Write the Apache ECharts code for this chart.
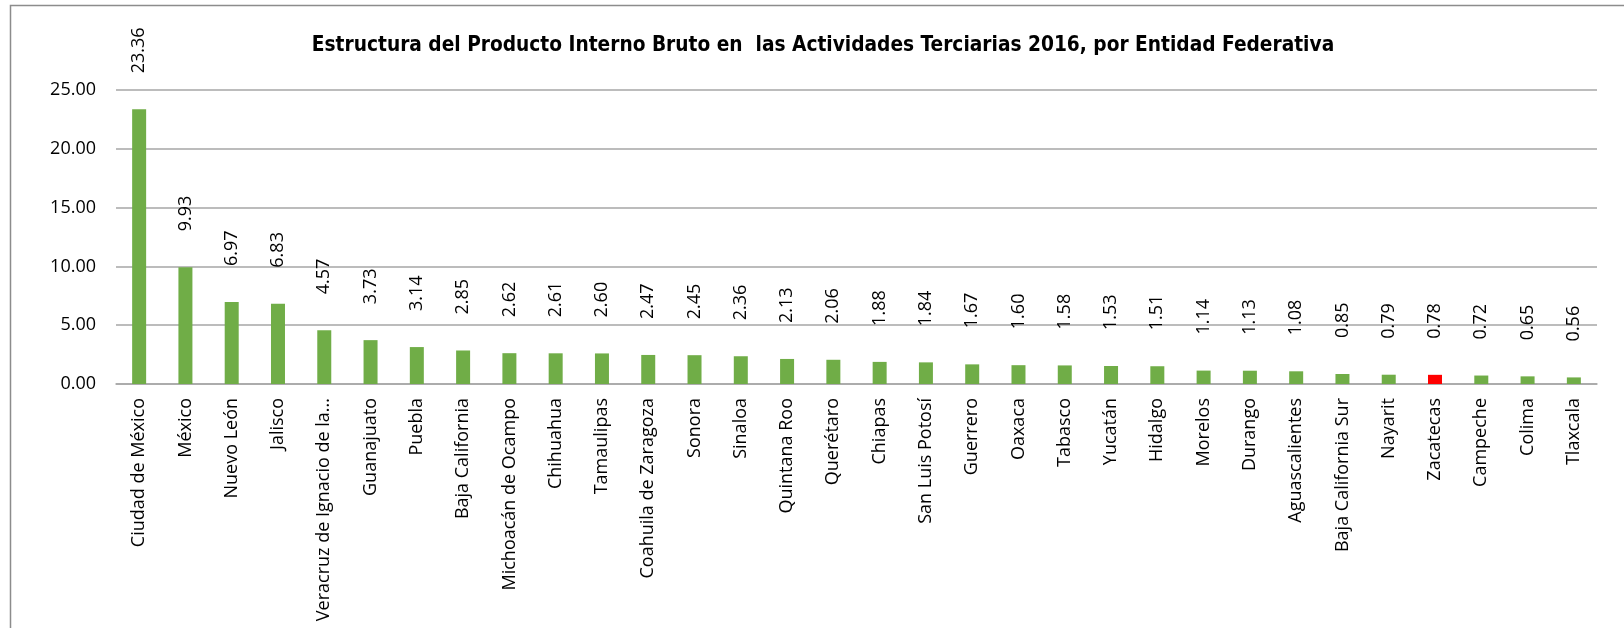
<!DOCTYPE html>
<html>
  <head>
    <meta charset="utf-8">
    <title>PIB Actividades Terciarias 2016</title>
    <script src="https://cdn.jsdelivr.net/npm/echarts@6/dist/echarts.min.js"></script>
    <style>
      html, body { margin: 0; padding: 0; background: #fff; }
      #chart1 { width: 1624px; height: 628px; }
    </style>
  </head>
  <body>
    <div id="chart1"></div>
  </body>
  <script>
    // entidades federativas
    var estados = ['Ciudad de México', 'México', 'Nuevo León', 'Jalisco', 'Veracruz de Ignacio de la Llave',
      'Guanajuato', 'Puebla', 'Baja California', 'Michoacán de Ocampo', 'Chihuahua', 'Tamaulipas',
      'Coahuila de Zaragoza', 'Sonora', 'Sinaloa', 'Quintana Roo', 'Querétaro', 'Chiapas',
      'San Luis Potosí', 'Guerrero', 'Oaxaca', 'Tabasco', 'Yucatán', 'Hidalgo', 'Morelos',
      'Durango', 'Aguascalientes', 'Baja California Sur', 'Nayarit', 'Zacatecas', 'Campeche',
      'Colima', 'Tlaxcala'];
    // participación (%)
    var valores = [23.36, 9.93, 6.97, 6.83, 4.57, 3.73, 3.14, 2.85, 2.62, 2.61, 2.60,
      2.47, 2.45, 2.36, 2.13, 2.06, 1.88, 1.84, 1.67, 1.60, 1.58, 1.53, 1.51, 1.14,
      1.13, 1.08, 0.85, 0.79, 0.78, 0.72, 0.65, 0.56];
    var destacado = 'Zacatecas';
    var yTicks = [0, 5, 10, 15, 20, 25];

    var verde = '#70ad47', rojo = '#ff0000';
    var fuente = '"Open Sans", "DejaVu Sans", sans-serif';

    var myChart = echarts.init(document.getElementById('chart1'));
    var option = {
      animation: false,
      title: {
        text: 'Estructura del Producto Interno Bruto en  las Actividades Terciarias 2016, por Entidad Federativa',
        left: 818,
        top: 30,
        textAlign: 'center',
        textStyle: {
          fontFamily: '"Liberation Sans Narrow", "DejaVu Sans Condensed", sans-serif',
          fontWeight: 'bold',
          fontSize: 20.7,
          color: '#000'
        }
      },
      graphic: [{
        type: 'rect',
        shape: { x: 10.5, y: 5.5, width: 1700, height: 700 },
        style: { fill: 'none', stroke: '#8c8c8c', lineWidth: 1.5 },
        silent: true
      }],
      grid: { left: 116, right: 27, top: 90, bottom: 244 },
      xAxis: {
        type: 'category',
        data: estados,
        axisTick: { show: false },
        axisLine: { lineStyle: { color: '#a6a6a6', width: 1.5 } },
        axisLabel: {
          interval: 0,
          rotate: 90,
          margin: 14,
          fontFamily: fuente,
          fontSize: 18,
          color: '#000',
          // nombres largos recortados como en el original
          formatter: function (v) { return v.length > 26 ? v.slice(0, 25) + '...' : v; }
        }
      },
      yAxis: {
        type: 'value',
        min: yTicks[0],
        max: yTicks[yTicks.length - 1],
        interval: 5,
        axisLine: { show: false },
        axisTick: { show: false },
        splitLine: { lineStyle: { color: '#a6a6a6', width: 1.5 } },
        axisLabel: {
          margin: 20,
          fontFamily: fuente,
          fontSize: 18,
          color: '#000',
          formatter: function (v) { return v.toFixed(2); }
        }
      },
      series: [{
        type: 'bar',
        barWidth: 14,
        data: valores.map(function (v, i) {
          return {
            value: v,
            itemStyle: { color: estados[i] === destacado ? rojo : verde }
          };
        }),
        label: {
          show: true,
          position: 'top',
          rotate: 90,
          align: 'left',
          verticalAlign: 'middle',
          distance: 36,
          fontFamily: fuente,
          fontSize: 18,
          color: '#000',
          formatter: function (p) { return p.value.toFixed(2); }
        }
      }]
    };
    myChart.setOption(option);
  </script>
</html>
